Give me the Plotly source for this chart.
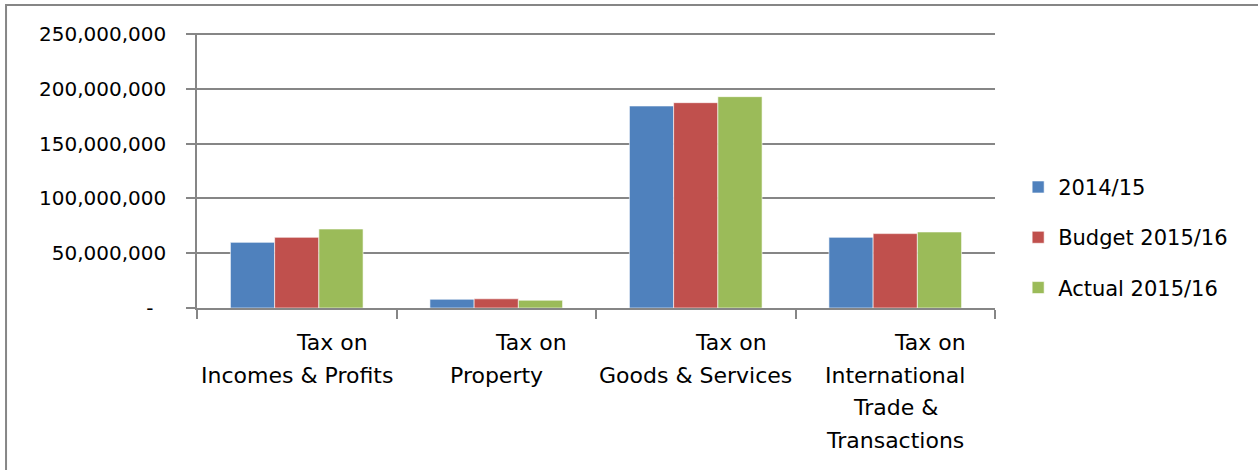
import plotly.graph_objects as go

categories = ["Tax on Incomes & Profits", "Tax on Property", "Tax on Goods & Services",
              "Tax on International Trade & Transactions"]
category_label_lines = [
    ["Tax on", "Incomes & Profits"],
    ["Tax on", "Property"],
    ["Tax on", "Goods & Services"],
    ["Tax on", "International", "Trade &", "Transactions"],
]
series_names = ["2014/15", "Budget 2015/16", "Actual 2015/16"]
values_2014_15 = [59_900_000, 8_000_000, 184_400_000, 64_500_000]
values_budget_2015_16 = [64_500_000, 8_400_000, 187_400_000, 67_900_000]
values_actual_2015_16 = [72_100_000, 7_100_000, 192_900_000, 69_400_000]
colors = ["#4F81BD", "#C0504D", "#9BBB59"]

y_tickvals = [0, 50_000_000, 100_000_000, 150_000_000, 200_000_000, 250_000_000]
y_ticktext = ["-\u00a0\u00a0", "50,000,000", "100,000,000", "150,000,000", "200,000,000", "250,000,000"]

fig = go.Figure()
for name, vals, col in zip(series_names,
                           [values_2014_15, values_budget_2015_16, values_actual_2015_16],
                           colors):
    fig.add_trace(go.Bar(x=categories, y=vals, name=name, legendgroup=name,
                         marker=dict(color=col, line=dict(color="white", width=0.6))))

fig.update_layout(
    width=1258, height=470,
    margin=dict(l=197, r=263, t=32.9, b=161.5, pad=0),
    paper_bgcolor="white", plot_bgcolor="white",
    font=dict(family="DejaVu Sans", size=20, color="black"),
    barmode="group", bargap=0.335, bargroupgap=0,
    showlegend=True,
    legend=dict(x=1.029, y=0.257, xanchor="left", yanchor="middle",
                font=dict(size=21), tracegroupgap=20, itemwidth=30,
                bgcolor="rgba(0,0,0,0)"),
    xaxis=dict(type="category", tickmode="array", tickvals=categories,
               showticklabels=False,
               tickson="boundaries", ticks="outside", ticklen=9, tickcolor="#868686",
               tickwidth=1.5, showline=True, linecolor="#868686", linewidth=1.5,
               showgrid=False),
    yaxis=dict(range=[0, 251_000_000], tickmode="array", tickvals=y_tickvals, ticktext=y_ticktext,
               ticks="outside", ticklen=9, tickcolor="#868686", tickwidth=1.5,
               showline=True, linecolor="#868686", linewidth=1.5,
               showgrid=True, gridcolor="#868686", gridwidth=1.5, zeroline=False,
               ticklabelstandoff=16),
)

# category labels, one annotation per wrapped line
for cat, lines in zip(categories, category_label_lines):
    for i, line in enumerate(lines):
        fig.add_annotation(x=cat, xref="x", y=0, yref="paper", text=line,
                           showarrow=False, xanchor="center", yanchor="middle",
                           xshift=35 if i == 0 else 0, yshift=-34.5 - 32.7 * i,
                           font=dict(size=22, family="DejaVu Sans", color="black"))

fig.add_shape(type="rect", xref="paper", yref="paper",
              x0=-0.2393, x1=1.5, y0=-0.8, y1=1.1015,
              line=dict(color="#868686", width=2), fillcolor="rgba(0,0,0,0)", layer="below")

fig.write_html("out.html", config={"displayModeBar": False},
               post_script="document.body.style.margin='0';")
